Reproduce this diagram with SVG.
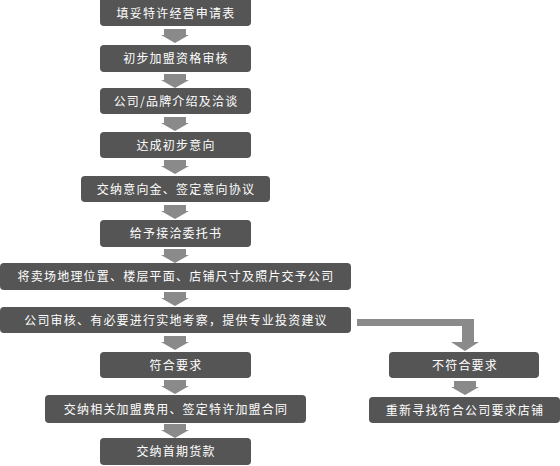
<svg xmlns="http://www.w3.org/2000/svg" width="560" height="466" viewBox="0 0 560 466">
<defs>
<style>
.box{fill:#555555;}
.t{fill:#ffffff;font-family:"Noto Sans CJK SC","Noto Sans",sans-serif;font-size:12px;letter-spacing:1.2px;text-anchor:middle;}
.ar{fill:#8a8a8a;}
</style>
<g id="arrow">
<rect class="ar" x="-11" y="0" width="22" height="6"/>
<polygon class="ar" points="-14,6 14,6 0,14"/>
</g>
</defs>
<rect width="560" height="466" fill="#ffffff"/>
<g id="connectors">
<use href="#arrow" x="175" y="29"/>
<use href="#arrow" x="175" y="74"/>
<use href="#arrow" x="175" y="117"/>
<use href="#arrow" x="175" y="160"/>
<use href="#arrow" x="175" y="205"/>
<use href="#arrow" x="175" y="249"/>
<use href="#arrow" x="175" y="292"/>
<use href="#arrow" x="175" y="336"/>
<use href="#arrow" x="175" y="380"/>
<use href="#arrow" x="175" y="424"/>
<use href="#arrow" x="465" y="381"/>
<path class="ar" d="M357,319 H474 V342 H462 V326 H357 Z"/>
<polygon class="ar" points="451,342 479,342 465,351"/>
</g>
<g id="n1"><rect class="box" x="100" y="-4" width="151" height="30" rx="4"/><text class="t" x="176" y="17.5">填妥特许经营申请表</text></g>
<g id="n2"><rect class="box" x="100" y="45" width="151" height="27" rx="4"/><text class="t" x="176" y="63">初步加盟资格审核</text></g>
<g id="n3"><rect class="box" x="100" y="88" width="151" height="26" rx="4"/><text class="t" x="176" y="105.5">公司/品牌介绍及洽谈</text></g>
<g id="n4"><rect class="box" x="100" y="132" width="151" height="26" rx="4"/><text class="t" x="176" y="149.5">达成初步意向</text></g>
<g id="n5"><rect class="box" x="81" y="176" width="189" height="26" rx="4"/><text class="t" x="176" y="193.5">交纳意向金、签定意向协议</text></g>
<g id="n6"><rect class="box" x="100" y="220" width="151" height="27" rx="4"/><text class="t" x="176" y="238">给予接洽委托书</text></g>
<g id="n7"><rect class="box" x="0" y="263" width="351" height="27" rx="4"/><text class="t" x="176" y="281">将卖场地理位置、楼层平面、店铺尺寸及照片交予公司</text></g>
<g id="n8"><rect class="box" x="0" y="307" width="351" height="26" rx="4"/><text class="t" x="176" y="324.5">公司审核、有必要进行实地考察，提供专业投资建议</text></g>
<g id="n9"><rect class="box" x="100" y="352" width="151" height="26" rx="4"/><text class="t" x="176" y="369.5">符合要求</text></g>
<g id="n10"><rect class="box" x="45" y="395" width="261" height="28" rx="4"/><text class="t" x="176" y="413.5">交纳相关加盟费用、签定特许加盟合同</text></g>
<g id="n11"><rect class="box" x="100" y="438" width="151" height="27" rx="4"/><text class="t" x="176" y="456">交纳首期货款</text></g>
<g id="n12"><rect class="box" x="389" y="352" width="150" height="26" rx="4"/><text class="t" x="465" y="369.5">不符合要求</text></g>
<g id="n13"><rect class="box" x="369" y="397" width="191" height="26" rx="4"/><text class="t" x="465" y="414.5">重新寻找符合公司要求店铺</text></g>
</svg>
